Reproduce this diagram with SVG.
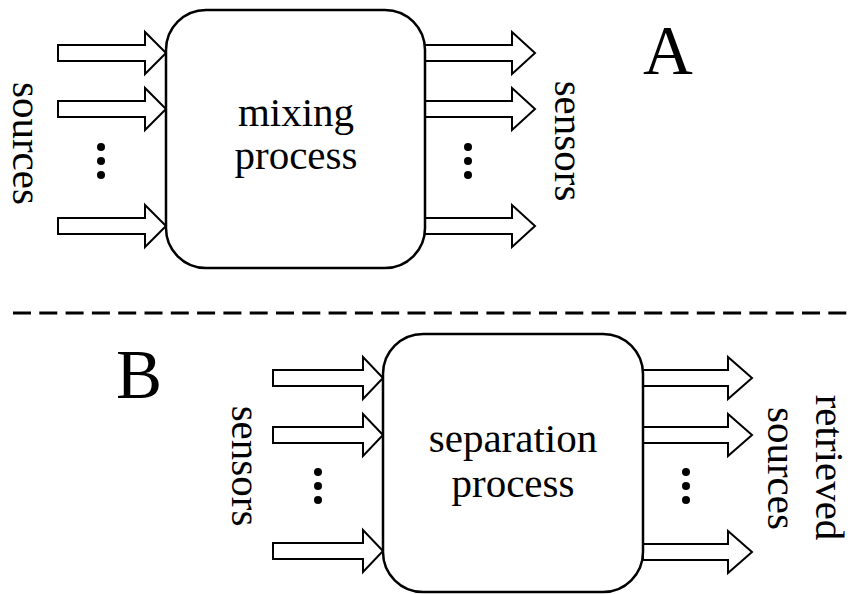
<svg xmlns="http://www.w3.org/2000/svg" width="850" height="594" viewBox="0 0 850 594">
<style>
.box{fill:#fff;stroke:#000;stroke-width:2.5}
.arr{fill:#fff;stroke:#000;stroke-width:2;stroke-linejoin:miter}
.t{font-family:"Liberation Serif","Times New Roman",serif;font-size:41px;fill:#000;text-anchor:middle}
.big{font-family:"Liberation Serif","Times New Roman",serif;font-size:69px;fill:#000}
.dot{fill:#000}
</style>
<rect width="850" height="594" fill="#fff"/>
<g id="connectors">
<polygon class="arr" points="58,45 145,45 145,32 166,53 145,74 145,61 58,61"/>
<polygon class="arr" points="58,101 145,101 145,88 166,109 145,130 145,117 58,117"/>
<polygon class="arr" points="58,218 145,218 145,205 166,226 145,247 145,234 58,234"/>
<polygon class="arr" points="425,45 512,45 512,32 535,53 512,74 512,61 425,61"/>
<polygon class="arr" points="425,101 512,101 512,88 535,109 512,130 512,117 425,117"/>
<polygon class="arr" points="425,218 512,218 512,205 535,226 512,247 512,234 425,234"/>
<polygon class="arr" points="273,370 363,370 363,357 383,378 363,399 363,386 273,386"/>
<polygon class="arr" points="273,427 363,427 363,414 383,435 363,456 363,443 273,443"/>
<polygon class="arr" points="273,543 363,543 363,530 383,551 363,572 363,559 273,559"/>
<polygon class="arr" points="643,370 728,370 728,357 752,378 728,399 728,386 643,386"/>
<polygon class="arr" points="643,427 728,427 728,414 752,435 728,456 728,443 643,443"/>
<polygon class="arr" points="643,544 728,544 728,531 752,552 728,573 728,560 643,560"/>
<g class="dot">
<circle cx="101" cy="147" r="4"/><circle cx="101" cy="161" r="4"/><circle cx="101" cy="175" r="4"/>
<circle cx="468" cy="147" r="4"/><circle cx="468" cy="161" r="4"/><circle cx="468" cy="175" r="4"/>
<circle cx="318" cy="472" r="4"/><circle cx="318" cy="486" r="4"/><circle cx="318" cy="500" r="4"/>
<circle cx="686" cy="472" r="4"/><circle cx="686" cy="486" r="4"/><circle cx="686" cy="500" r="4"/>
</g>
</g>
<g id="mixing">
<rect class="box" x="166" y="10" width="259" height="258" rx="40" ry="40"/>
<text class="t" x="296" y="126">mixing</text>
<text class="t" x="296" y="169">process</text>
</g>
<g id="separation">
<rect class="box" x="383" y="334" width="260" height="258" rx="40" ry="40"/>
<text class="t" x="513" y="452">separation</text>
<text class="t" x="513" y="497">process</text>
</g>
<g id="labels">
<text class="t" transform="translate(13,143.5) rotate(90)">sources</text>
<text class="t" transform="translate(555,141) rotate(90)">sensors</text>
<text class="t" transform="translate(232,466) rotate(90)">sensors</text>
<text class="t" transform="translate(816,467.5) rotate(90)">retrieved</text>
<text class="t" transform="translate(768,468.5) rotate(90)">sources</text>
<text class="big" x="643" y="74">A</text>
<text class="big" x="116" y="398">B</text>
</g>
<line x1="13" y1="313" x2="850" y2="313" stroke="#000" stroke-width="3" stroke-dasharray="18,8.3"/>
</svg>
